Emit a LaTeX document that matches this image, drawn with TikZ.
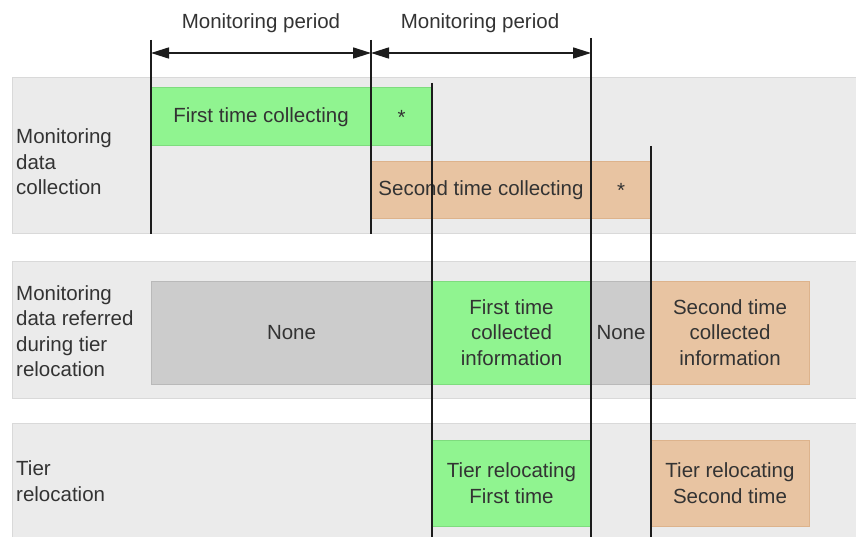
\documentclass[tikz,border=0pt]{standalone}
\usepackage{fontspec}
\setmainfont{Liberation Sans}
\usetikzlibrary{arrows.meta}

\definecolor{bandfill}{HTML}{EBEBEB}
\definecolor{bandedge}{HTML}{D9D9D9}
\definecolor{firstfill}{HTML}{90F490}
\definecolor{firstedge}{HTML}{7EDC7E}
\definecolor{secondfill}{HTML}{E8C4A2}
\definecolor{secondedge}{HTML}{DDB38C}
\definecolor{nonefill}{HTML}{CCCCCC}
\definecolor{noneedge}{HTML}{B9B9B9}
\definecolor{textgray}{HTML}{333333}
\definecolor{linedark}{HTML}{1C1C1C}

\tikzset{
  band/.style={fill=bandfill,draw=bandedge,line width=1pt},
  cell/.style={anchor=north west,inner sep=0pt,outer sep=0pt,align=center,
    text=textgray,font=\fontsize{20.5}{25.5}\selectfont,line width=1pt},
  firstbox/.style={cell,fill=firstfill,draw=firstedge},
  secondbox/.style={cell,fill=secondfill,draw=secondedge},
  nonebox/.style={cell,fill=nonefill,draw=noneedge},
  rowlabel/.style={anchor=west,align=left,inner sep=0pt,text=textgray,
    font=\fontsize{20.5}{25.5}\selectfont},
  periodlabel/.style={inner sep=0pt,text=textgray,font=\fontsize{20.5}{25.5}\selectfont},
  timeline/.style={draw=linedark,line width=1.6pt},
  span/.style={draw=linedark,line width=1.6pt,
    {Triangle[length=18pt,width=11pt]}-{Triangle[length=18pt,width=11pt]}}
}

\begin{document}
\begin{tikzpicture}[x=1pt,y=-1pt]
\useasboundingbox (0,0) rectangle (856,537);

% bands
\draw[band] (12,78) rectangle (866,234);
\draw[band] (12,262) rectangle (866,398);
\draw[band] (12,423) rectangle (866,547);

% row labels
\node[rowlabel] (rowcollect) at (16,162) {Monitoring\\data\\collection};
\node[rowlabel] (rowrefer) at (16,331) {Monitoring\\data referred\\during tier\\relocation};
\node[rowlabel] (rowtier) at (16,481) {Tier\\relocation};

% data collection
\node[firstbox,minimum width=220pt,minimum height=58pt] (firstcollect) at (151,88) {First time collecting};
\node[firstbox,minimum width=61pt,minimum height=58pt] (firststar) at (371,88) {*};
\node[secondbox,minimum width=220pt,minimum height=57pt] (secondcollect) at (371,162) {Second time collecting};
\node[secondbox,minimum width=60pt,minimum height=57pt] (secondstar) at (591,162) {*};

% data referred
\node[nonebox,minimum width=281pt,minimum height=103pt] (noneone) at (151,281) {None};
\node[firstbox,minimum width=159pt,minimum height=103pt] (firstinfo) at (432,281) {First time\\collected\\information};
\node[nonebox,minimum width=60pt,minimum height=103pt] (nonetwo) at (591,281) {None};
\node[secondbox,minimum width=158pt,minimum height=103pt] (secondinfo) at (651,281) {Second time\\collected\\information};

% tier relocation
\node[firstbox,minimum width=159pt,minimum height=86pt] (firstreloc) at (432,440) {Tier relocating\\First time};
\node[secondbox,minimum width=158pt,minimum height=86pt] (secondreloc) at (651,440) {Tier relocating\\Second time};

% time lines
\coordinate (startt) at (151,40);   \coordinate (startb) at (151,234);
\coordinate (midt) at (371,40);     \coordinate (midb) at (371,234);
\coordinate (firstt) at (432,83);   \coordinate (firstb) at (432,537);
\coordinate (endt) at (591,38);     \coordinate (endb) at (591,537);
\coordinate (secondt) at (651,146); \coordinate (secondb) at (651,537);
\draw[timeline] (startt) -- (startb);
\draw[timeline] (midt) -- (midb);
\draw[timeline] (firstt) -- (firstb);
\draw[timeline] (endt) -- (endb);
\draw[timeline] (secondt) -- (secondb);

% monitoring periods
\coordinate (spanone) at (151,53);
\coordinate (spantwo) at (371,53);
\coordinate (spanthree) at (591,53);
\draw[span] (spanone) -- (spantwo);
\draw[span] (spantwo) -- (spanthree);
\node[periodlabel] (periodone) at (261,23) {Monitoring period};
\node[periodlabel] (periodtwo) at (480,23) {Monitoring period};
\end{tikzpicture}
\end{document}
